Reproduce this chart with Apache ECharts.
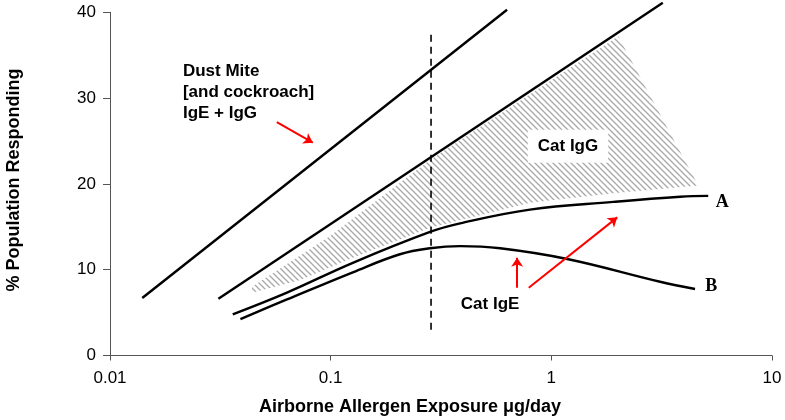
<!DOCTYPE html>
<html>
<head>
<meta charset="utf-8">
<script src="https://cdn.jsdelivr.net/npm/echarts@6/dist/echarts.min.js"></script>
<style>
  html, body { margin: 0; padding: 0; background: #fff; }
  #chart { width: 785px; height: 420px; }
</style>
</head>
<body>
<div id="chart"></div>
<script>
// x tick labels (log axis)
var xTicks = ['0.01', '0.1', '1', '10'];

// straight lines
var dustMite = [[0.014, 6.7], [0.63, 40.3]];
var catIgGUpper = [[0.031, 6.6], [3.2, 41.1]];

// curves A and B (cat IgE)
var curveA = [[0.036, 4.8], [0.063, 7.3], [0.126, 10.8], [0.282, 14.4], [0.386, 15.4],
  [0.80, 17.0], [1.91, 17.9], [3.84, 18.5], [5.14, 18.6]];
var curveB = [[0.039, 4.25], [0.063, 6.5], [0.126, 9.7], [0.206, 11.8], [0.282, 12.5],
  [0.386, 12.75], [0.586, 12.5], [1.18, 11.25], [3.11, 8.6], [4.48, 7.75]];

// hatched cat IgG area
var hatchTop = [[0.044, 8.0], [0.099, 13.9], [0.282, 22.8], [2.01, 37.2]];
var hatchBottom = [[4.63, 19.8], [1.91, 18.9], [0.80, 17.8], [0.282, 14.9],
  [0.126, 11.4], [0.073, 8.8], [0.044, 7.3]];

// vertical dashed line
var dashedLine = [[0.285, 3], [0.285, 37.6]];

// red arrows [from, to]
var arrows = [
  [[0.057, 27.2], [0.083, 24.8]],
  [[0.70, 7.9], [0.70, 11.4]],
  [[0.79, 7.9], [1.99, 16.1]]
];

// text labels: [x, y, text]
var notes = [
  [0.0214, 30.7, 'Dust Mite\n[and cockroach]\nIgE + IgG'],
  [1.19, 24.4, 'Cat IgG'],
  [0.528, 6.0, 'Cat IgE'],
  [5.95, 17.8, 'A'],
  [5.30, 8.1, 'B']
];

//斜线填充
function makeHatch() {
  var c = document.createElement('canvas');
  c.width = 6; c.height = 6;
  var ctx = c.getContext('2d');
  ctx.strokeStyle = '#a8a8a8';
  ctx.lineWidth = 1.3;
  ctx.beginPath();
  ctx.moveTo(-1, -1); ctx.lineTo(7, 7);
  ctx.moveTo(-1, 5); ctx.lineTo(1, 7);
  ctx.moveTo(5, -1); ctx.lineTo(7, 1);
  ctx.stroke();
  return c;
}
var hatchImg = makeHatch();

var sans = 'Liberation Sans, Arial, sans-serif';
var serif = 'Liberation Serif, Times New Roman, serif';

var blackLine = { color: '#000', width: 2.4 };

// 注释文字的样式
function noteStyle(i, text) {
  if (i === 0) {
    return { text: text, font: 'bold 17px ' + sans, fill: '#000', align: 'left',
      verticalAlign: 'middle', lineHeight: 21 };
  }
  if (i === 1) {
    return { text: text, font: 'bold 17px ' + sans, fill: '#000', align: 'center',
      verticalAlign: 'middle', backgroundColor: '#fff', padding: [8, 10] };
  }
  if (i === 2) {
    return { text: text, font: 'bold 17px ' + sans, fill: '#000', align: 'center',
      verticalAlign: 'middle' };
  }
  return { text: text, font: 'bold 18px ' + serif, fill: '#000', align: 'center',
    verticalAlign: 'middle' };
}

var option = {
  backgroundColor: '#fff',
  animation: false,
  grid: { left: 110, right: 13, top: 12.3, bottom: 64.5 },
  xAxis: {
    type: 'log',
    logBase: 10,
    min: 0.01,
    max: 10,
    axisLine: { lineStyle: { color: '#555', width: 1 } },
    axisTick: { show: true, length: 5, lineStyle: { color: '#555' } },
    minorTick: { show: false },
    splitLine: { show: false },
    axisLabel: {
      margin: 14,
      fontFamily: sans,
      fontSize: 17,
      color: '#000',
      formatter: function (v) {
        return xTicks[Math.round(Math.log10(v)) + 2];
      }
    }
  },
  yAxis: {
    type: 'value',
    min: 0,
    max: 40,
    interval: 10,
    axisLine: { show: true, lineStyle: { color: '#555', width: 1 } },
    axisTick: { show: true, length: 7, lineStyle: { color: '#555' } },
    splitLine: { show: false },
    axisLabel: { margin: 14, fontFamily: sans, fontSize: 17, color: '#000' }
  },
  graphic: [
    {
      type: 'text',
      x: 410, y: 407,
      style: {
        text: 'Airborne Allergen Exposure μg/day',
        font: 'bold 18px ' + sans,
        fill: '#000',
        align: 'center',
        verticalAlign: 'middle'
      }
    },
    {
      type: 'text',
      x: 14, y: 180,
      rotation: Math.PI / 2,
      style: {
        text: '% Population Responding',
        font: 'bold 18px ' + sans,
        fill: '#000',
        align: 'center',
        verticalAlign: 'middle'
      }
    }
  ],
  series: [
    {
      type: 'custom',
      name: 'hatch',
      z: 1,
      clip: false,
      data: [hatchTop[0]],
      renderItem: function (params, api) {
        var pts = hatchTop.concat(hatchBottom).map(function (p) { return api.coord(p); });
        return {
          type: 'polygon',
          shape: { points: pts },
          style: { fill: { image: hatchImg, repeat: 'repeat' }, stroke: null }
        };
      }
    },
    {
      type: 'line', name: 'dust', data: dustMite, symbol: 'none', clip: false, z: 3,
      lineStyle: blackLine
    },
    {
      type: 'line', name: 'igg', data: catIgGUpper, symbol: 'none', clip: false, z: 3,
      lineStyle: blackLine
    },
    {
      type: 'line', name: 'A', data: curveA, symbol: 'none', smooth: 0.4, z: 3,
      lineStyle: blackLine
    },
    {
      type: 'line', name: 'B', data: curveB, symbol: 'none', smooth: 0.4, z: 3,
      lineStyle: blackLine
    },
    {
      type: 'line', name: 'dashed', data: dashedLine, symbol: 'none', z: 3,
      lineStyle: { color: '#000', width: 1.6, type: [7, 5] }
    },
    {
      type: 'lines',
      coordinateSystem: 'cartesian2d',
      z: 4,
      symbol: ['none', 'arrow'],
      symbolSize: 9,
      lineStyle: { color: '#ff0000', width: 2, opacity: 1 },
      data: arrows.map(function (a) { return { coords: a }; })
    },
    {
      type: 'custom',
      name: 'notes',
      z: 5,
      clip: false,
      data: notes,
      renderItem: function (params, api) {
        var n = notes[params.dataIndex];
        var p = api.coord([n[0], n[1]]);
        return {
          type: 'text',
          x: p[0], y: p[1],
          style: noteStyle(params.dataIndex, n[2])
        };
      }
    }
  ]
};

var chart = echarts.init(document.getElementById('chart'));
chart.setOption(option);
</script>
</body>
</html>
